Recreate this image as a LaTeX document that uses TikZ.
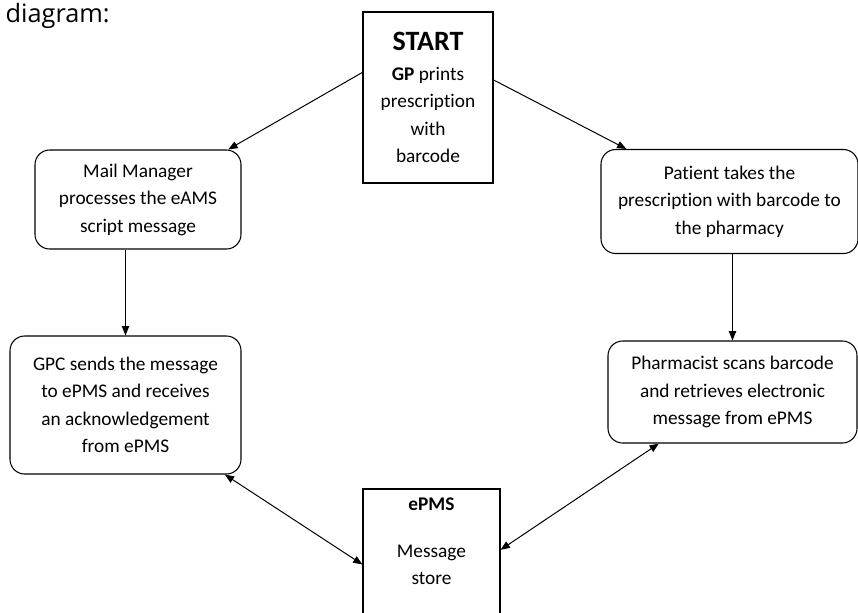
\documentclass[tikz,border=0pt]{standalone}
\usepackage{fontspec}
\setmainfont{Carlito}[RawFeature={-liga;-clig;-calt;-dlig}]
\newfontfamily\headfont{Open Sans}
\usetikzlibrary{arrows.meta}

\begin{document}
\begin{tikzpicture}[x=0.75pt, y=-0.75pt,
    stepnode/.style={draw, line width=0.8pt, rounded corners=11pt, align=center,
      inner sep=0pt, font=\fontsize{14.5}{20.6}\selectfont},
    plainnode/.style={stepnode, rounded corners=0pt},
    flow/.style={line width=0.75pt, -{Triangle[length=7pt,width=5.5pt]}},
    twoway/.style={flow, {Triangle[length=7pt,width=5.5pt]}-{Triangle[length=7pt,width=5.5pt]}}]
  \useasboundingbox (0,0) rectangle (858,612);
  \node[font=\headfont\fontsize{19}{22}\selectfont, anchor=base east, inner sep=0pt] (caption) at (110,22) {diagram:};

  % boxes
  \node[plainnode, minimum width=97.5pt, minimum height=128.25pt] (start) at (428,97.5)
    {{\fontsize{21}{24}\selectfont\bfseries START}\\[2pt]
     \textbf{GP} prints\\prescription\\with\\barcode};
  \node[stepnode, minimum width=154.5pt, minimum height=74.25pt] (mail) at (138,199.5)
    {Mail Manager\\processes the eAMS\\script message};
  \node[stepnode, minimum width=192.75pt, minimum height=78pt] (patient) at (729.5,201.5)
    {Patient takes the\\prescription with barcode to\\the pharmacy};
  \node[stepnode, minimum width=173.25pt, minimum height=103.5pt] (gpc) at (125.5,405)
    {GPC sends the message\\to ePMS and receives\\an acknowledgement\\from ePMS};
  \node[stepnode, minimum width=186.75pt, minimum height=76.5pt] (pharm) at (732.5,392)
    {Pharmacist scans barcode\\and retrieves electronic\\message from ePMS};
  \node[plainnode, minimum width=102.75pt, minimum height=113.25pt] (epms) at (431.5,564.5) {};
  \node[align=center, anchor=north, inner sep=0pt, font=\fontsize{14.5}{20.6}\selectfont] (epmstext) at (431.5,498)
    {\textbf{ePMS}\\[14pt]Message\\store};

  % connectors
  \draw[flow] (start.159) -- (mail.29);
  \draw[flow] (start.15) -- (patient.153);
  \draw[flow] (gpc.north |- mail.south) -- (gpc.north);
  \draw[flow] (pharm.north |- patient.south) -- (pharm.north);
  \draw[twoway] (gpc.-35) -- (epms.west);
  \draw[twoway] (pharm.-145) -- (epms.12);
\end{tikzpicture}
\end{document}
